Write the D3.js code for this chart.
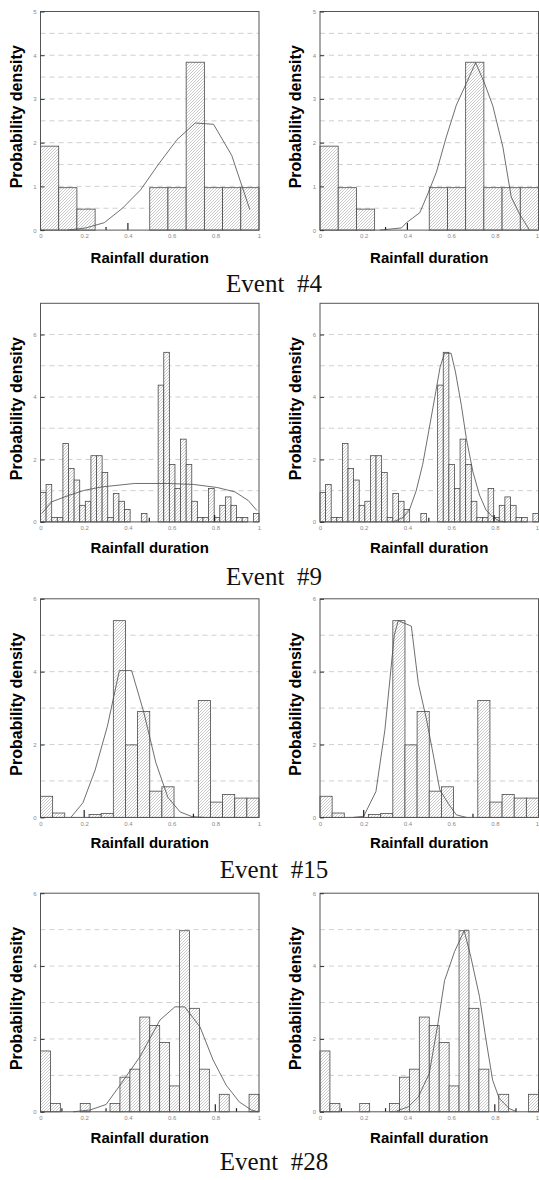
<!DOCTYPE html>
<html>
<head>
<meta charset="utf-8">
<script src="https://cdn.jsdelivr.net/npm/d3@7"></script>
<style>
  body { margin: 0; background: #fff; }
  svg { display: block; }
</style>
</head>
<body>
<div id="chart"></div>
<script>
'use strict';

// event titles under each pair of panels
const eventLabels = ['Event  #4', 'Event  #9', 'Event  #15', 'Event  #28'];

// y extent and labelled ticks of each row
const yMax = [5, 7, 6, 6];
const yTicks = [[0, 1, 2, 3, 4, 5], [0, 2, 4, 6], [0, 2, 4, 6], [0, 2, 4, 6]];
const yGrid = [[0.5, 1, 1.5, 2, 2.5, 3, 3.5, 4, 4.5], [1, 2, 3, 4, 5, 6], [1, 2, 3, 4, 5], [1, 2, 3, 4, 5]];
const xTicks = [0, 0.2, 0.4, 0.6, 0.8, 1];

// histogram densities, one value per equal bin on [0, 1]
const density4 = [1.92, 0.97, 0.48, 0, 0, 0, 0.97, 0.97, 3.84, 0.97, 0.97, 0.97];
const density9 = [0.94, 1.2, 0.14, 0.14, 2.51, 1.71, 1.34, 0.53, 0.66, 2.12, 2.12, 1.58, 0.14,
  0.91, 0.66, 0.40, 0, 0, 0.27, 0, 0, 4.38, 5.43, 1.84, 1.07, 2.65, 1.84, 0.66, 0.14, 0.14,
  1.07, 0.14, 0.53, 0.80, 0.53, 0.14, 0.14, 0, 0.27];
const density15 = [0.58, 0.12, 0, 0, 0.08, 0.11, 5.4, 1.99, 2.91, 0.72, 0.84, 0, 0, 3.21, 0.42, 0.63, 0.53, 0.53];
const density28 = [1.67, 0.23, 0, 0, 0.23, 0, 0, 0.23, 0.95, 1.17, 2.6, 2.37, 1.9, 0.71, 4.97, 2.84, 1.17, 0, 0.48, 0, 0, 0.48];

// short dark stubs standing on the x axis: [x, density]
const stubs4 = [[0.3, 0.07], [0.4, 0.16]];
const stubs9 = [[0.498, 0.13], [0.797, 0.22]];
const stubs15 = [[0.2, 0.2], [0.7, 0.1]];
const stubs28 = [[0.098, 0.1], [0.3, 0.1], [0.8, 0.21], [0.897, 0.1]];

// fitted curves, left panels
const fitL4x = [0.125, 0.208, 0.292, 0.375, 0.458, 0.542, 0.625, 0.708, 0.792, 0.875, 0.958];
const fitL4y = [0, 0.05, 0.17, 0.5, 0.92, 1.52, 2.07, 2.45, 2.42, 1.71, 0.47];
const fitL9x = [0.006, 0.05, 0.13, 0.2, 0.28, 0.43, 0.58, 0.7, 0.81, 0.89, 0.95, 0.99];
const fitL9y = [0.27, 0.64, 0.85, 1.01, 1.12, 1.23, 1.23, 1.2, 1.1, 0.96, 0.69, 0.37];
const fitL15x = [0.139, 0.194, 0.25, 0.306, 0.361, 0.417, 0.472, 0.528, 0.583, 0.639, 0.694, 0.75];
const fitL15y = [0, 0.4, 1.3, 2.5, 4.03, 4.03, 2.9, 1.5, 0.55, 0.15, 0.02, 0];
const fitL28x = [0.15, 0.18, 0.227, 0.3, 0.364, 0.455, 0.547, 0.615, 0.66, 0.73, 0.79, 0.85, 0.91, 0.965, 0.995];
const fitL28y = [0, 0.02, 0.05, 0.2, 0.73, 1.51, 2.52, 2.88, 2.88, 2.33, 1.42, 0.73, 0.27, 0.05, 0];

// fitted curves, right panels
const fitR4x = [0.274, 0.373, 0.396, 0.457, 0.5, 0.533, 0.578, 0.624, 0.67, 0.712, 0.753, 0.791, 0.837, 0.875, 0.913, 0.959];
const fitR4y = [0, 0.05, 0.17, 0.4, 0.91, 1.33, 2.13, 2.86, 3.36, 3.83, 3.36, 2.84, 1.9, 0.76, 0.37, 0];
const fitR9x = [0.335, 0.38, 0.41, 0.44, 0.47, 0.5, 0.53, 0.55, 0.57, 0.6, 0.62, 0.647, 0.67, 0.7, 0.73, 0.76, 0.79, 0.82, 0.85];
const fitR9y = [0, 0.14, 0.4, 0.99, 1.84, 3.0, 4.17, 4.97, 5.4, 5.4, 4.8, 3.73, 2.66, 1.6, 0.86, 0.38, 0.16, 0.03, 0];
const fitR15x = [0.152, 0.2, 0.256, 0.297, 0.34, 0.358, 0.418, 0.45, 0.487, 0.517, 0.548, 0.586, 0.624, 0.67];
const fitR15y = [0, 0.03, 0.71, 2.4, 5.0, 5.4, 5.25, 3.68, 2.7, 1.76, 0.76, 0.39, 0.07, 0];
const fitR28x = [0.35, 0.405, 0.45, 0.5, 0.54, 0.57, 0.616, 0.66, 0.69, 0.73, 0.76, 0.79, 0.82, 0.866, 0.9];
const fitR28y = [0.02, 0.14, 0.41, 1.05, 2.43, 3.6, 4.4, 4.97, 4.26, 3.16, 1.97, 0.87, 0.37, 0.09, 0];

const rows = [
  { density: density4, stubs: stubs4, fits: [[fitL4x, fitL4y], [fitR4x, fitR4y]] },
  { density: density9, stubs: stubs9, fits: [[fitL9x, fitL9y], [fitR9x, fitR9y]] },
  { density: density15, stubs: stubs15, fits: [[fitL15x, fitL15y], [fitR15x, fitR15y]] },
  { density: density28, stubs: stubs28, fits: [[fitL28x, fitL28y], [fitR28x, fitR28y]] }
];

// layout
const width = 539, height = 1180;
const panelLeft = [40.5, 320];
const plotW = 218.5, plotH = 218.6;
const rowTop = [11.5, 303.3, 598.8, 893.2];
const xLabelY = [263, 553, 848, 1143];
const eventY = [291.5, 585, 878, 1170];

const svg = d3.select('#chart').append('svg')
  .attr('width', width)
  .attr('height', height);

// diagonal hatch used to fill the bars
const pat = svg.append('defs').append('pattern')
  .attr('id', 'hatch')
  .attr('patternUnits', 'userSpaceOnUse')
  .attr('width', 3)
  .attr('height', 3);
pat.append('rect').attr('width', 3).attr('height', 3).attr('fill', '#fff');
pat.append('path')
  .attr('d', 'M-1,1 l2,-2 M0,3 l3,-3 M2,4 l2,-2')
  .attr('stroke', '#a6a6a6')
  .attr('stroke-width', 0.6);

rows.forEach(function(row, r){
  const y = d3.scaleLinear()
    .domain([0, yMax[r]])
    .range([rowTop[r] + plotH, rowTop[r]]);
  const n = row.density.length;

  panelLeft.forEach(function(left, s){
    const x = d3.scaleLinear().domain([0, 1]).range([left, left + plotW]);
    const g = svg.append('g');

    // dashed grid
    g.append('g').selectAll('line')
      .data(yGrid[r])
      .join('line')
      .attr('x1', x(0)).attr('x2', x(1))
      .attr('y1', d => y(d)).attr('y2', d => y(d))
      .attr('stroke', '#c4c4c4')
      .attr('stroke-width', 0.8)
      .attr('stroke-dasharray', '5,4');

    // hatched bars (empty bins are not drawn)
    g.append('g').selectAll('rect')
      .data(row.density.map((d, i) => ({ d, i })).filter(o => o.d > 0))
      .join('rect')
      .attr('x', o => x(o.i / n))
      .attr('width', x(1 / n) - x(0))
      .attr('y', o => y(o.d))
      .attr('height', o => y(0) - y(o.d))
      .attr('fill', 'url(#hatch)')
      .attr('stroke', '#4a4a4a')
      .attr('stroke-width', 0.8);

    // fitted curve
    const fx = row.fits[s][0], fy = row.fits[s][1];
    const line = d3.line()
      .x(d => x(d[0]))
      .y(d => y(d[1]));
    g.append('path')
      .datum(fx.map((v, i) => [v, fy[i]]))
      .attr('d', line)
      .attr('fill', 'none')
      .attr('stroke', '#4a4a4a')
      .attr('stroke-width', 0.8);

    // stubs on the axis
    g.append('g').selectAll('line')
      .data(row.stubs)
      .join('line')
      .attr('x1', d => x(d[0])).attr('x2', d => x(d[0]))
      .attr('y1', y(0)).attr('y2', d => y(d[1]))
      .attr('stroke', '#222')
      .attr('stroke-width', 1.2);

    // frame
    g.append('rect')
      .attr('x', x(0)).attr('y', y(yMax[r]))
      .attr('width', x(1) - x(0)).attr('height', y(0) - y(yMax[r]))
      .attr('fill', 'none')
      .attr('stroke', '#555')
      .attr('stroke-width', 1);

    // y axis, ticks pointing inward
    const ya = g.append('g')
      .attr('transform', `translate(${x(0)},0)`)
      .call(d3.axisLeft(y).tickValues(yTicks[r]).tickSize(-4).tickPadding(4).tickFormat(d3.format('d')));
    ya.select('.domain').remove();
    ya.selectAll('line').attr('stroke', '#333');
    ya.selectAll('text')
      .attr('fill', '#8a8a8a')
      .style('font-family', 'Liberation Sans, Arial, sans-serif')
      .style('font-size', '6px');

    // x axis, labels only
    const xa = g.append('g')
      .attr('transform', `translate(0,${y(0)})`)
      .call(d3.axisBottom(x).tickValues(xTicks).tickSize(0).tickPadding(4)
        .tickFormat(d => (d === 0 || d === 1) ? String(d) : d.toFixed(1)));
    xa.select('.domain').remove();
    xa.selectAll('text')
      .attr('fill', '#8a8a8a')
      .style('font-family', 'Liberation Sans, Arial, sans-serif')
      .style('font-size', '6px');
    // keep the last label inside the page on the right-hand panels
    if(x(1) + 3 > width){
      xa.selectAll('.tick').filter(d => d === 1).select('text').attr('text-anchor', 'end');
    }

    // axis titles
    g.append('text')
      .attr('transform', `translate(${left - 19},${(y(0) + y(yMax[r])) / 2 - 4}) rotate(-90)`)
      .attr('text-anchor', 'middle')
      .style('font-family', 'Liberation Sans, Arial, sans-serif')
      .style('font-weight', 'bold')
      .style('font-size', '16px')
      .attr('fill', '#000')
      .text('Probability density');

    g.append('text')
      .attr('x', (x(0) + x(1)) / 2)
      .attr('y', xLabelY[r])
      .attr('text-anchor', 'middle')
      .style('font-family', 'Liberation Sans, Arial, sans-serif')
      .style('font-weight', 'bold')
      .style('font-size', '15px')
      .attr('fill', '#000')
      .text('Rainfall duration');
  });

  svg.append('text')
    .attr('x', 274)
    .attr('y', eventY[r])
    .attr('text-anchor', 'middle')
    .style('font-family', 'Liberation Serif, Times New Roman, serif')
    .style('font-size', '25px')
    .style('white-space', 'pre')
    .attr('fill', '#111')
    .text(eventLabels[r]);
});
</script>
</body>
</html>
